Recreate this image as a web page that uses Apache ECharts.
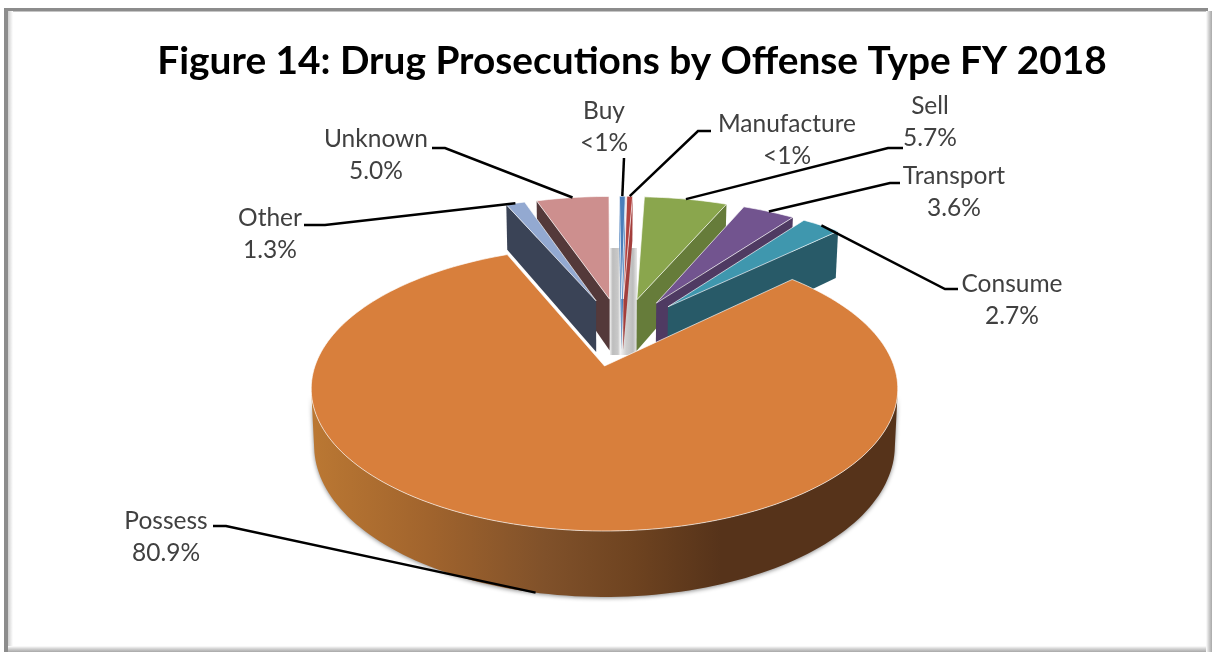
<!DOCTYPE html>
<html><head><meta charset="utf-8">
<style>html,body{margin:0;padding:0;background:#fff}#c{width:1212px;height:652px}</style>
<script src="https://cdn.jsdelivr.net/npm/echarts@6/dist/echarts.min.js"></script>
</head><body><div id="c"></div>
<script>
const titleText = 'Figure 14: Drug Prosecutions by Offense Type FY 2018';
const categories = ['Buy','Manufacture','Sell','Transport','Consume','Possess','Other','Unknown'];
const values = [0.4,0.4,5.7,3.6,2.7,80.9,1.3,5.0];
const valueLabels = ['<1%','<1%','5.7%','3.6%','2.7%','80.9%','1.3%','5.0%'];
const topColors = ['#4a7ebb','#b2413e','#8aa64d','#72548f','#3f97ae','#d87f3c','#93a9d1','#cd8f8e'];
const wallColors = ['#4a7ebb','#a33e3c','#667c3a','#4f3a62','#285a68','#56331a','#3a4356','#54393a'];
const drawOrder = [7,6,0,1,2,3,4,5];
const labelCenters = [[604,111],[787,124],[930,106],[954,176],[1012,284],[166,521],[270,218],[376,139]];
const leaderElbows = [[[624,158]],[[711,131],[698,131]],[[903,148],[888,148]],[[900,183],[890,183]],[[958,289],[945,289]],[[213,526],[226,526]],[[304,225],[325,225]],[[432,148],[445,148]]];

const view = {cx:604.5,cy:366,rx:289.5,ry:138.6,k:0.16,depth:55.4,bottomScale:0.99,explode:0.265,clusterShift:0.007};
const total = values.reduce((a,b)=>a+b,0);
const spans = []; let acc = 0;
values.forEach(v=>{const s=acc/total*360; acc+=v; spans.push([s,acc/total*360]);});
const rad = d=>d*Math.PI/180;
const dir = d=>[Math.sin(rad(d)),Math.cos(rad(d))];
const mid = i=>(spans[i][0]+spans[i][1])/2;
const anchorIdx = categories.indexOf('Possess');
function offset(i){const a=dir(mid(i)),b=dir(mid(anchorIdx));return [view.explode*(a[0]-b[0])+(i===anchorIdx?0:view.clusterShift),view.explode*(a[1]-b[1])];}
function topPt(p){const w=1+view.k*p[1];return [view.cx+view.rx*p[0]/w,view.cy-view.ry*p[1]/w];}
function botPt(p){const w=1+view.k*p[1];return [view.cx+view.bottomScale*view.rx*p[0]/w,view.cy-view.ry*p[1]/w+view.depth/w];}
const eye=[0,-1/view.k];
function rimPts(i){const o=offset(i),pts=[],[a,b]=spans[i],n=Math.max(2,Math.ceil((b-a)/1.5));
  for(let j=0;j<=n;j++){const d=dir(a+(b-a)*j/n);pts.push({p:[o[0]+d[0],o[1]+d[1]],d});}return pts;}
function poly(points,fill,extra){return {type:'polygon',shape:{points},style:Object.assign({fill},extra||{})};}
function wallPoly(ps){return ps.map(topPt).concat(ps.slice().reverse().map(botPt));}
function renderSlice(params,api){
  const i=api.value(0),o=offset(i),rim=rimPts(i),children=[];
  let wallFill=wallColors[i];
  const isBig=i===anchorIdx;
  if(isBig){wallFill=new echarts.graphic.LinearGradient(310,0,898,0,[
    {offset:0,color:'#bb7833'},{offset:0.2,color:'#a1642d'},{offset:0.4,color:'#80512a'},
    {offset:0.55,color:'#6e4320'},{offset:0.7,color:'#56331a'},{offset:1,color:'#56331a'}],true);}
  const vis=rim.filter(r=>(eye[0]-r.p[0])*r.d[0]+(eye[1]-r.p[1])*r.d[1]>0).map(r=>r.p);
  if(vis.length>1)children.push(poly(wallPoly(vis),wallFill,isBig?{shadowBlur:4,shadowColor:'rgba(0,0,0,0.45)',shadowOffsetY:1}:{}));
  if(!isBig){
    [[rim[0],-1],[rim[rim.length-1],1]].forEach(([r,sgn])=>{
      const n=[sgn*r.d[1],-sgn*r.d[0]];
      if((eye[0]-o[0])*n[0]+(eye[1]-o[1])*n[1]>0)children.push(poly(wallPoly([o,r.p]),wallFill));
    });
  }
  children.push(poly([topPt(o)].concat(rim.map(r=>topPt(r.p))),topColors[i],{stroke:'rgba(255,255,255,0.65)',lineWidth:1}));
  return {type:'group',children};
}
function renderLabel(params,api){
  const i=api.value(0),o=offset(i),d=dir(mid(i)),rimP=[o[0]+d[0],o[1]+d[1]];
  const end=i===anchorIdx?botPt(rimP):topPt(rimP);
  const pts=[...leaderElbows[i],end];
  const c=labelCenters[i];
  const txt=(t,y)=>({type:'text',style:{text:t,x:c[0],y,align:'center',verticalAlign:'middle',fontFamily:'Lato',fontSize:24.5,fill:'#404040'}});
  return {type:'group',children:[
    {type:'polyline',shape:{points:pts},style:{stroke:'#000',lineWidth:2.5,fill:null}},
    txt(categories[i],c[1]),txt(valueLabels[i],c[1]+32)
  ]};
}
const chart=echarts.init(document.getElementById('c'),null,{renderer:'canvas'});
chart.setOption({
  animation:false,backgroundColor:'#fff',
  title:{text:titleText,left:627,top:37,textAlign:'center',textStyle:{fontFamily:'Lato',fontWeight:'bold',fontSize:38.8,color:'#000'}},
  graphic:[
    {type:'rect',z:1,silent:true,shape:{x:4,y:8,width:1204,height:3.5},style:{fill:'#8c8c8c'}},
    {type:'rect',z:1,silent:true,shape:{x:4,y:8,width:4,height:644},style:{fill:'#8c8c8c'}},
    {type:'rect',z:1,silent:true,shape:{x:8,y:11,width:5,height:638},style:{fill:new echarts.graphic.LinearGradient(0,0,1,0,[{offset:0,color:'#cfcfcf'},{offset:1,color:'#ffffff'}])}},
    {type:'rect',z:1,silent:true,shape:{x:8,y:646,width:1204,height:6},style:{fill:new echarts.graphic.LinearGradient(0,0,0,1,[{offset:0,color:'#ffffff'},{offset:0.5,color:'#cfcfcf'},{offset:1,color:'#a8a8a8'}])}},
    {type:'rect',z:1,silent:true,shape:{x:1206,y:11,width:6,height:641},style:{fill:new echarts.graphic.LinearGradient(0,0,1,0,[{offset:0,color:'#ffffff'},{offset:0.5,color:'#cfcfcf'},{offset:1,color:'#a8a8a8'}])}},
    {type:'rect',z:1,silent:true,shape:{x:610,y:248,width:27,height:107},style:{fill:new echarts.graphic.LinearGradient(0,0,1,0,[
      {offset:0,color:'#eeeeee'},{offset:0.1,color:'#bdbdbd'},{offset:0.3,color:'#c9c9c9'},{offset:0.38,color:'#f4f4f4'},{offset:0.6,color:'#cfcfcf'},{offset:0.85,color:'#bdbdbd'},{offset:1,color:'#e6e6e6'}])}}
  ],
  series:[
    {type:'custom',coordinateSystem:'none',silent:true,z:2,renderItem:renderSlice,data:drawOrder.map(i=>[i,values[i]])},
    {type:'custom',coordinateSystem:'none',silent:true,z:3,renderItem:renderLabel,data:categories.map((c,i)=>[i,values[i]])}
  ]
});
</script></body></html>
